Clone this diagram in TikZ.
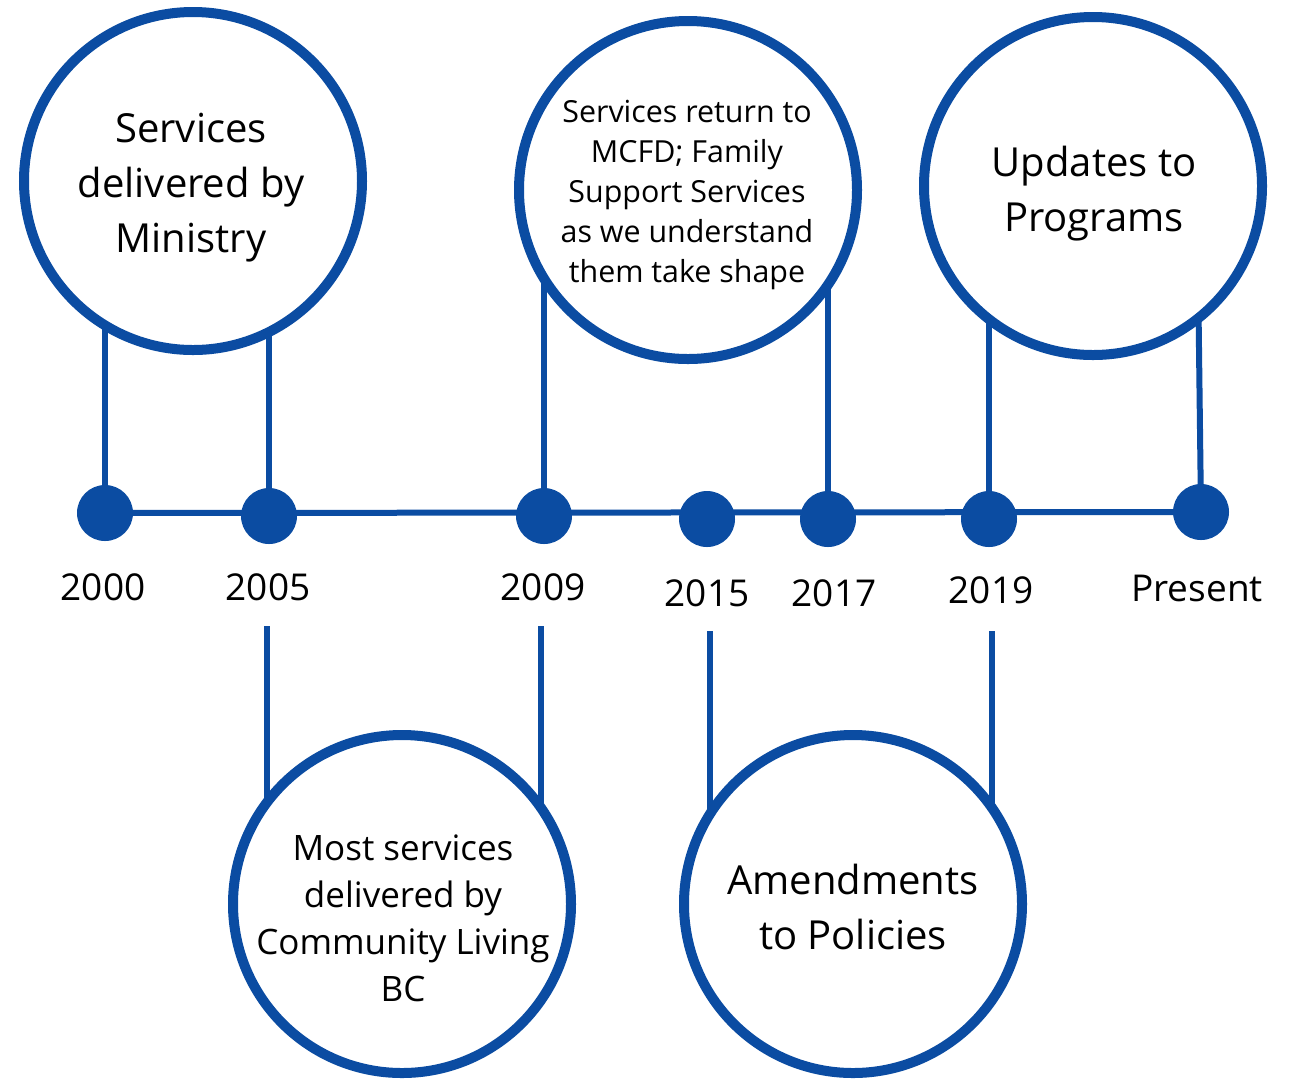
\documentclass[tikz,border=0pt]{standalone}
\usepackage{fontspec}
\setmainfont{Open Sans}
\usetikzlibrary{backgrounds}
\definecolor{tlblue}{RGB}{11,76,162}
\begin{document}
\begin{tikzpicture}[x=0.5pt,y=-0.5pt,
  bigcirc/.style={circle, draw=tlblue, line width=5pt, fill=white, minimum size=169pt, inner sep=0pt},
  ctext/.style={align=center, text=black, inner sep=0pt},
  dot/.style={circle, fill=tlblue, minimum size=28pt, inner sep=0pt},
  conn/.style={draw=tlblue, line width=3pt},
  year/.style={font=\fontsize{18.5}{22}\selectfont, text=black, inner sep=0pt}]
\useasboundingbox (0,0) rectangle (1289,1078);
% circles
\node[bigcirc] (c1) at (193,181) {};
\node[bigcirc] (c3) at (688,190) {};
\node[bigcirc] (c4) at (1093,186) {};
\node[bigcirc] (c5) at (402,904) {};
\node[bigcirc] (c6) at (853,904) {};
% circle texts
\node[ctext, font=\fontsize{20}{27.5}\selectfont] (t1) at (191,188) {Services\\delivered by\\Ministry};
\node[ctext, font=\fontsize{15.2}{20}\selectfont] (t3) at (687,195) {Services return to\\MCFD; Family\\Support Services\\as we understand\\them take shape};
\node[ctext, font=\fontsize{20}{27.5}\selectfont] (t4) at (1094,194) {Updates to\\Programs};
\node[ctext, font=\fontsize{17.5}{23.5}\selectfont] (t5) at (403,918) {Most services\\delivered by\\Community Living\\BC};
\node[ctext, font=\fontsize{20}{27.5}\selectfont] (t6) at (853,907) {Amendments\\to Policies};
% dots
\node[dot] (d2000) at (105,513) {};
\node[dot] (d2005) at (269,516) {};
\node[dot] (d2009) at (544,516) {};
\node[dot] (d2015) at (707,519) {};
\node[dot] (d2017) at (828,519) {};
\node[dot] (d2019) at (989,519) {};
\node[dot] (dpres) at (1201,512) {};
% year labels
\node[year] (l2000) at (103,587) {2000};
\node[year] (l2005) at (268,587) {2005};
\node[year] (l2009) at (543,587) {2009};
\node[year] (l2015) at (707,593) {2015};
\node[year] (l2017) at (834,593) {2017};
\node[year] (l2019) at (991,590) {2019};
\node[year] (lpres) at (1197,588) {Present};
% free ends of lower connectors
\coordinate (b1) at (267,626);
\coordinate (b2) at (541,626);
\coordinate (b3) at (710,631);
\coordinate (b4) at (992,631);
\begin{scope}[on background layer]
  \fill[white] (0,0) rectangle (1289,1078);
  \draw[conn] (d2000.center) -- (dpres.center);
  \draw[conn] (d2000.center) -- (d2000.center |- c1.center);
  \draw[conn] (d2005.center) -- (d2005.center |- c1.center);
  \draw[conn] (d2009.center) -- (d2009.center |- c3.center);
  \draw[conn] (d2017.center) -- (d2017.center |- c3.center);
  \draw[conn] (d2019.center) -- (d2019.center |- c4.center);
  \draw[conn] (dpres.center) -- ([xshift=-2pt]dpres.center |- c4.center);
  \draw[conn] (b1) -- (b1 |- c5.center);
  \draw[conn] (b2) -- (b2 |- c5.center);
  \draw[conn] (b3) -- (b3 |- c6.center);
  \draw[conn] (b4) -- (b4 |- c6.center);
\end{scope}
\end{tikzpicture}
\end{document}
